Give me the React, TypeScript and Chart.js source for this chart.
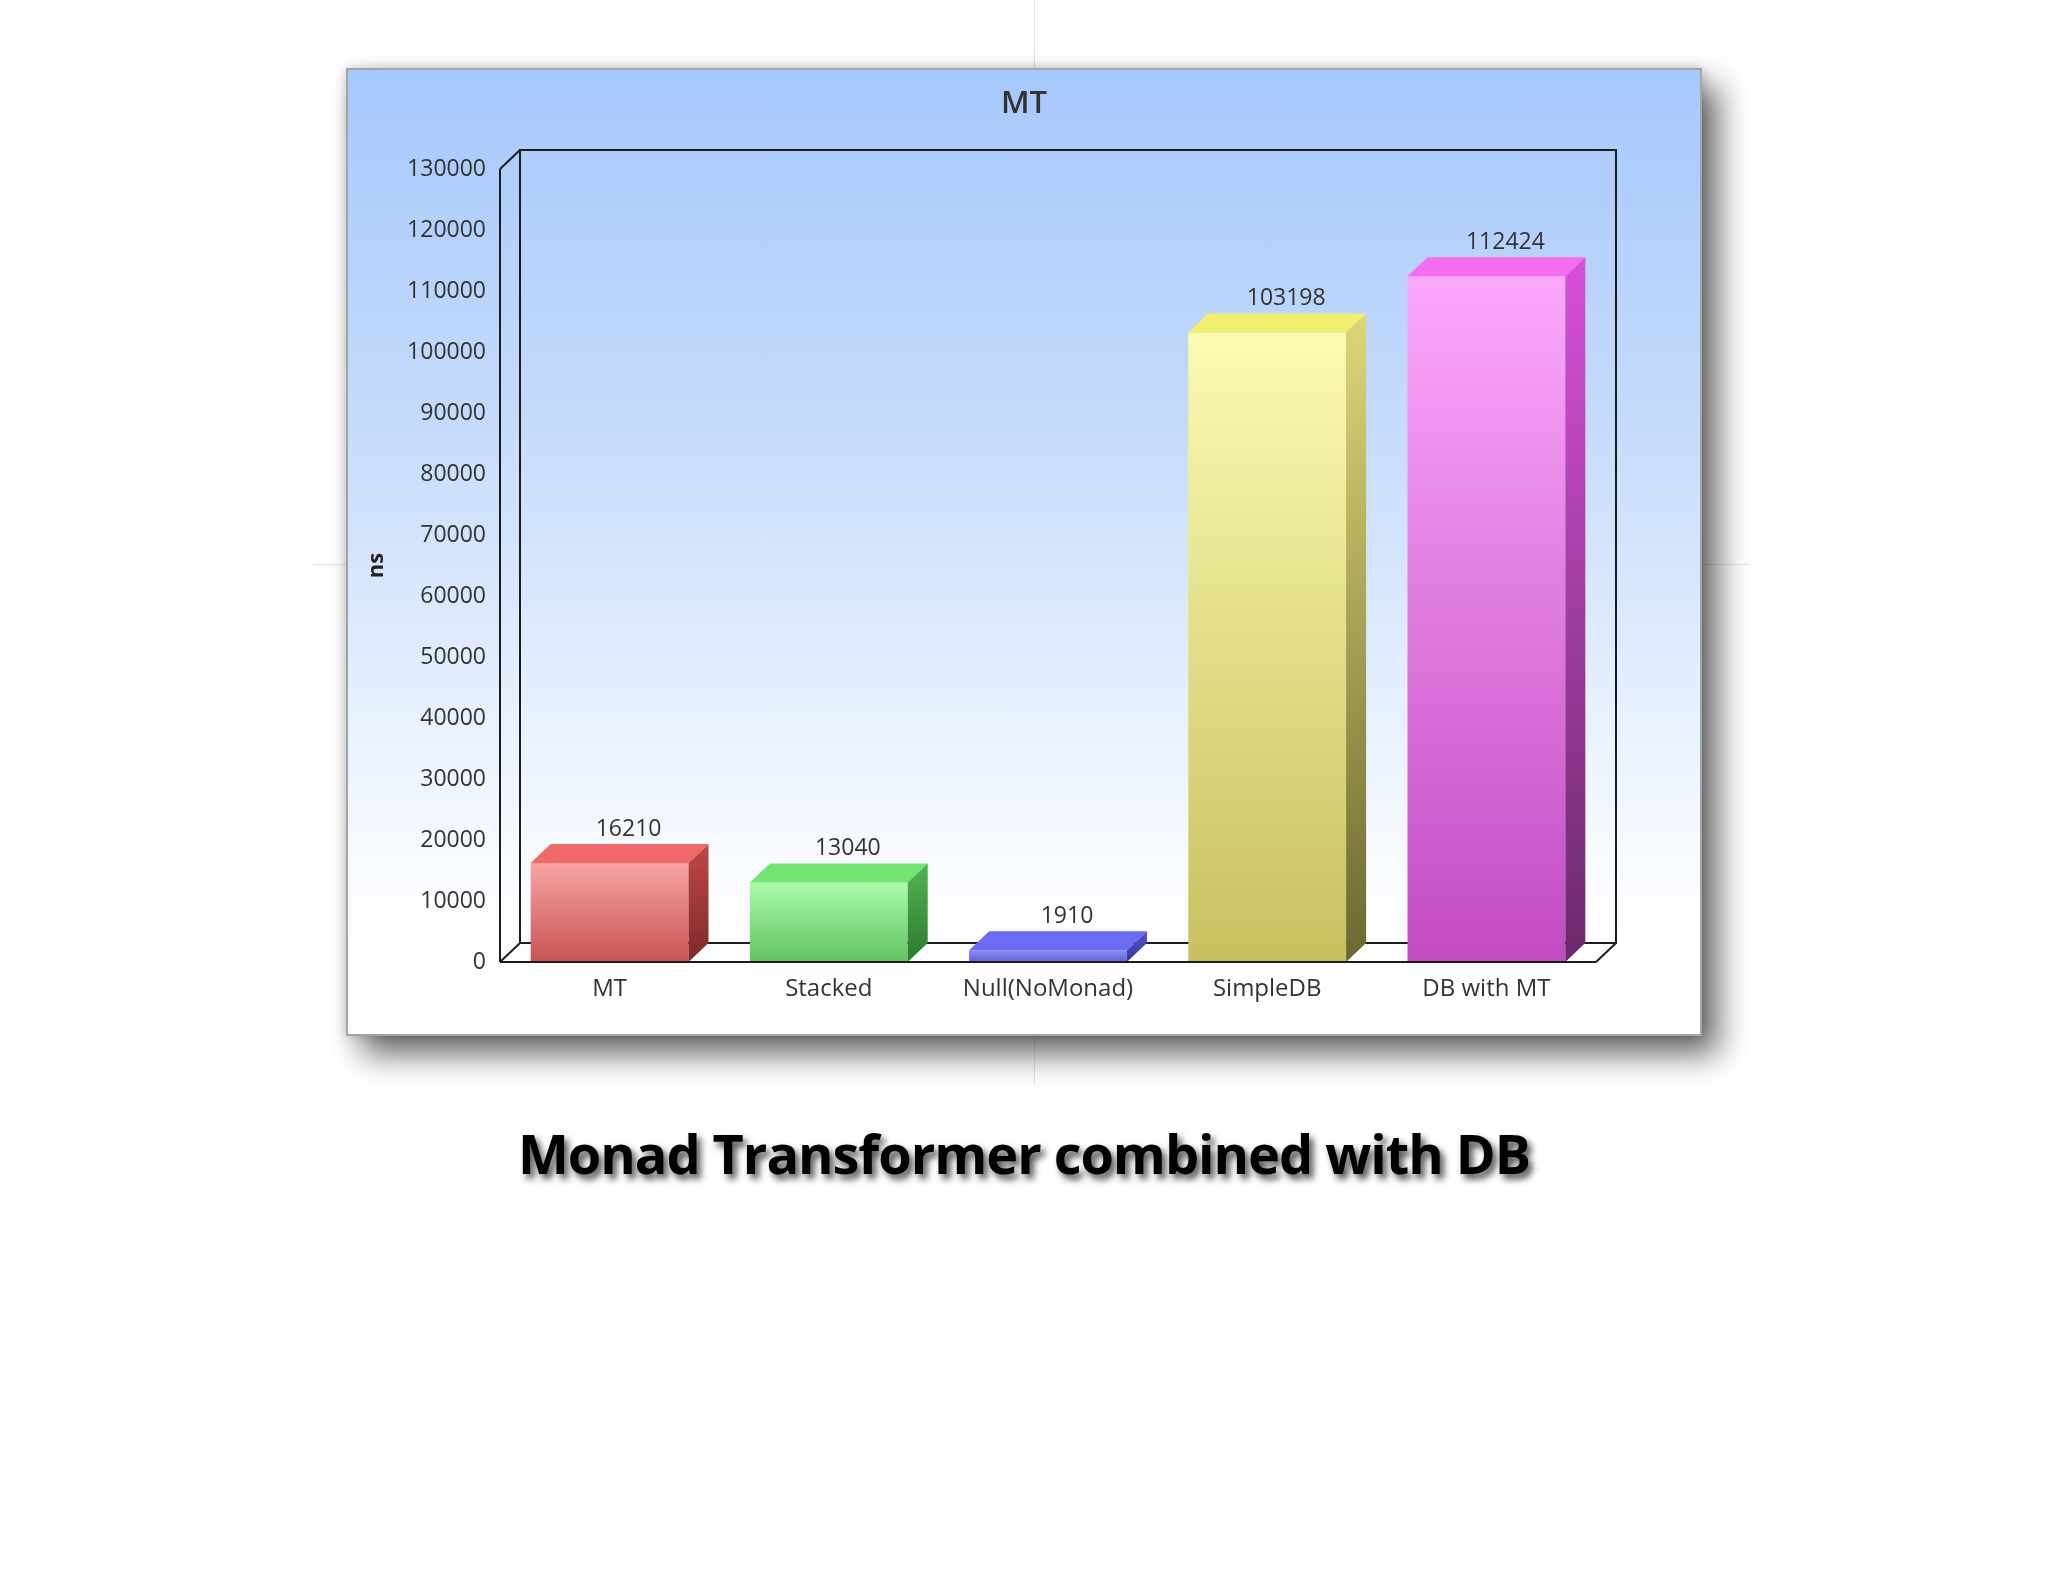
import React, { useEffect, useRef } from 'react';
import { Chart, registerables } from 'chart.js';

Chart.register(...registerables);

// chart data
const chartTitle = 'MT';
const axisTitle = 'ns';
const categories = ['MT', 'Stacked', 'Null(NoMonad)', 'SimpleDB', 'DB with MT'];
const timesNs = [16210, 13040, 1910, 103198, 112424];
const yMin = 0;
const yMax = 130000;
const yStep = 10000;

// bar colours (front gradient, top face, side gradient)
const frontTop = ['#f7a4a4', '#acfbac', '#8a8af6', '#fbfbb2', '#fba8fb'];
const frontBottom = ['#c85454', '#62c262', '#6464dc', '#c8c060', '#c24cc2'];
const topFace = ['#f06a6a', '#74e474', '#6c6cf2', '#f2ee6e', '#f56ef0'];
const sideTop = ['#c04848', '#52b452', '#5050c8', '#dcd878', '#d850d8'];
const sideBottom = ['#7c2a2a', '#2e7a2e', '#3a3a9a', '#6c6830', '#6a2a6a'];

const DX = 20;
const DY = 19;
const FONT = '"Open Sans", "DejaVu Sans", sans-serif';

const box3d = {
  id: 'box3d',
  beforeDatasetsDraw(chart: Chart) {
    const { ctx, chartArea: a } = chart;
    ctx.save();
    ctx.fillStyle = '#ffffff';
    ctx.beginPath();
    ctx.moveTo(a.left, a.bottom);
    ctx.lineTo(a.left + DX, a.bottom - DY);
    ctx.lineTo(a.right + DX, a.bottom - DY);
    ctx.lineTo(a.right, a.bottom);
    ctx.closePath();
    ctx.fill();

    ctx.strokeStyle = '#1c1c1c';
    ctx.lineWidth = 2;
    ctx.beginPath();
    // back wall
    ctx.moveTo(a.left + DX, a.bottom - DY);
    ctx.lineTo(a.left + DX, a.top - DY);
    ctx.lineTo(a.right + DX, a.top - DY);
    ctx.lineTo(a.right + DX, a.bottom - DY);
    ctx.lineTo(a.left + DX, a.bottom - DY);
    // edges to the front plane
    ctx.moveTo(a.left, a.top);
    ctx.lineTo(a.left + DX, a.top - DY);
    ctx.moveTo(a.left, a.bottom);
    ctx.lineTo(a.left + DX, a.bottom - DY);
    ctx.moveTo(a.right, a.bottom);
    ctx.lineTo(a.right + DX, a.bottom - DY);
    // front y axis
    ctx.moveTo(a.left, a.top);
    ctx.lineTo(a.left, a.bottom);
    ctx.stroke();
    ctx.restore();
  },
  afterDatasetsDraw(chart: Chart) {
    const { ctx, chartArea: a } = chart;
    const meta = chart.getDatasetMeta(0);
    ctx.save();
    meta.data.forEach((el: any, i: number) => {
      const { x, y, base, width } = el.getProps(['x', 'y', 'base', 'width'], true);
      const l = x - width / 2;
      const r = x + width / 2;
      // top face
      ctx.fillStyle = topFace[i];
      ctx.beginPath();
      ctx.moveTo(l, y);
      ctx.lineTo(l + DX, y - DY);
      ctx.lineTo(r + DX, y - DY);
      ctx.lineTo(r, y);
      ctx.closePath();
      ctx.fill();
      // side face
      const g = ctx.createLinearGradient(0, y - DY, 0, base);
      g.addColorStop(0, sideTop[i]);
      g.addColorStop(1, sideBottom[i]);
      ctx.fillStyle = g;
      ctx.beginPath();
      ctx.moveTo(r, y);
      ctx.lineTo(r + DX, y - DY);
      ctx.lineTo(r + DX, base - DY);
      ctx.lineTo(r, base);
      ctx.closePath();
      ctx.fill();
      // value label
      ctx.fillStyle = '#333333';
      ctx.font = `23px ${FONT}`;
      ctx.textAlign = 'center';
      ctx.textBaseline = 'middle';
      ctx.fillText(String(timesNs[i]), x + DX - 1, y - DY - 15);
    });
    // front base line
    ctx.strokeStyle = '#1c1c1c';
    ctx.lineWidth = 2;
    ctx.beginPath();
    ctx.moveTo(a.left, a.bottom);
    ctx.lineTo(a.right, a.bottom);
    ctx.stroke();
    ctx.restore();
  },
  afterDraw(chart: Chart) {
    // title centred on the whole panel, not on the plot
    const { ctx } = chart;
    ctx.save();
    ctx.fillStyle = '#333333';
    ctx.font = `600 31px ${FONT}`;
    ctx.textAlign = 'center';
    ctx.textBaseline = 'middle';
    ctx.fillText(chartTitle, chart.width / 2, 34);
    ctx.restore();
  },
};

const BarChart3D: React.FC = () => {
  const canvasRef = useRef<HTMLCanvasElement>(null);
  const chartRef = useRef<Chart | null>(null);

  useEffect(() => {
    if (!canvasRef.current) return;
    if (chartRef.current) chartRef.current.destroy();
    const ctx = canvasRef.current.getContext('2d');
    if (!ctx) return;

    chartRef.current = new Chart(ctx, {
      type: 'bar',
      data: {
        labels: categories,
        datasets: [
          {
            label: axisTitle,
            data: timesNs,
            backgroundColor: (c: any) => {
              const chart = c.chart;
              const ys = chart.scales?.y;
              const i = c.dataIndex ?? 0;
              if (!ys || !c.parsed) return frontTop[i];
              const top = ys.getPixelForValue(c.parsed.y);
              const bottom = ys.getPixelForValue(0);
              if (!Number.isFinite(top) || !Number.isFinite(bottom)) return frontTop[i];
              const g = chart.ctx.createLinearGradient(0, top, 0, bottom);
              g.addColorStop(0, frontTop[i]);
              g.addColorStop(1, frontBottom[i]);
              return g;
            },
            borderWidth: 0,
            barPercentage: 0.72,
            categoryPercentage: 1,
          },
        ],
      },
      options: {
        responsive: true,
        maintainAspectRatio: false,
        animation: false,
        layout: { padding: { left: 0, right: 104, top: 99, bottom: 0 } },
        plugins: {
          legend: { display: false },
          tooltip: { enabled: false },
          title: { display: false },
        },
        scales: {
          x: {
            grid: { display: false, drawTicks: false },
            border: { display: false },
            ticks: {
              color: '#333333',
              font: { family: FONT, size: 24 },
              padding: 13,
              maxRotation: 0,
            },
            afterFit: (s: any) => {
              s.height = 72;
            },
          },
          y: {
            min: yMin,
            max: yMax,
            grid: { display: false, drawTicks: false },
            border: { display: false },
            ticks: {
              stepSize: yStep,
              color: '#333333',
              font: { family: FONT, size: 23 },
              padding: 14,
              callback: (v: any) => String(v),
            },
            title: {
              display: true,
              text: axisTitle,
              color: '#222222',
              font: { family: FONT, size: 22, weight: 'bold' },
              padding: { top: 16, bottom: 0 },
            },
            afterFit: (s: any) => {
              s.width = 152;
            },
          },
        },
      },
      plugins: [box3d],
    });

    return () => {
      if (chartRef.current) {
        chartRef.current.destroy();
        chartRef.current = null;
      }
    };
  }, []);

  return (
    <div style={{ position: 'absolute', left: 0, top: 0, width: 1352, height: 964 }}>
      <canvas ref={canvasRef}></canvas>
    </div>
  );
};

export default function App() {
  return (
    <div
      style={{
        position: 'fixed',
        left: 0,
        top: 0,
        width: 2048,
        height: 1582,
        background: '#ffffff',
        overflow: 'hidden',
      }}
    >
      {/* faint slide guides */}
      <div style={{ position: 'absolute', left: 1034, top: 0, width: 1, height: 1085, background: '#e4e4e4' }} />
      <div style={{ position: 'absolute', left: 313, top: 564, width: 1437, height: 1, background: '#e4e4e4' }} />

      <div
        style={{
          position: 'absolute',
          left: 346,
          top: 68,
          width: 1356,
          height: 968,
          boxSizing: 'border-box',
          border: '2px solid #a4a4a4',
          background:
            'linear-gradient(to bottom, #a6c8fb 0%, #c4dafb 35%, #e2edfd 62%, #f8fbff 82%, #ffffff 92%)',
          boxShadow: '16px 18px 30px rgba(0,0,0,0.6), 0 0 10px rgba(0,0,0,0.2)',
        }}
      >
        <BarChart3D />
      </div>

      <div
        style={{
          position: 'absolute',
          left: 0,
          top: 1121,
          width: 2048,
          textAlign: 'center',
          fontFamily: FONT,
          fontWeight: 700,
          fontSize: 54,
          lineHeight: 1.2,
          color: '#000000',
          letterSpacing: -1,
          textShadow: '4px 5px 7px rgba(0,0,0,0.7)',
        }}
      >
        Monad Transformer combined with DB
      </div>
    </div>
  );
}
